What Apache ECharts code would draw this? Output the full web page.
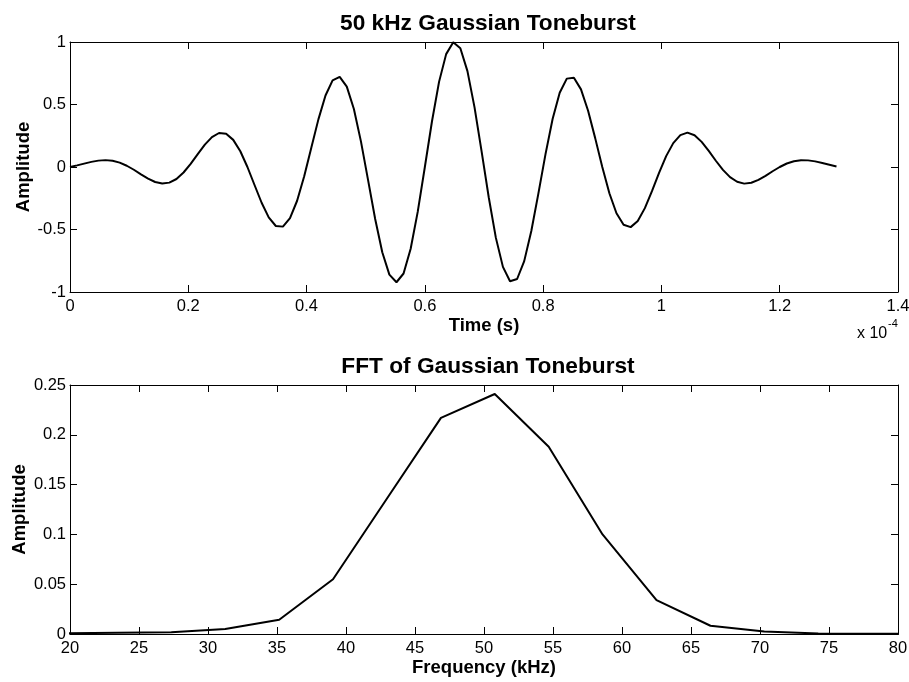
<!DOCTYPE html>
<html>
<head>
<meta charset="utf-8">
<script src="https://cdn.jsdelivr.net/npm/echarts@6/dist/echarts.min.js"></script>
<style>
html,body{margin:0;padding:0;background:#fff;}
#chart{width:909px;height:682px;}
</style>
</head>
<body>
<div id="chart"></div>
<script>
// Time axis values (x 1e-4 s)
const timeValues = [0,0.012,0.024,0.036,0.048,0.06,0.072,0.084,0.096,0.108,0.12,0.132,0.144,0.156,0.168,0.18,0.192,0.204,0.216,0.228,0.24,0.252,0.264,0.276,0.288,0.3,0.312,0.324,0.336,0.348,0.36,0.372,0.384,0.396,0.408,0.42,0.432,0.444,0.456,0.468,0.48,0.492,0.504,0.516,0.528,0.54,0.552,0.564,0.576,0.588,0.6,0.612,0.624,0.636,0.648,0.66,0.672,0.684,0.696,0.708,0.72,0.732,0.744,0.756,0.768,0.78,0.792,0.804,0.816,0.828,0.84,0.852,0.864,0.876,0.888,0.9,0.912,0.924,0.936,0.948,0.96,0.972,0.984,0.996,1.008,1.02,1.032,1.044,1.056,1.068,1.08,1.092,1.104,1.116,1.128,1.14,1.152,1.164,1.176,1.188,1.2,1.212,1.224,1.236,1.248,1.26,1.272,1.284,1.296];
// Toneburst amplitude
const toneAmplitude = [0,0.013,0.027,0.041,0.051,0.055,0.050,0.035,0.010,-0.022,-0.059,-0.093,-0.120,-0.132,-0.125,-0.096,-0.044,0.025,0.103,0.179,0.239,0.272,0.266,0.217,0.126,0,-0.144,-0.286,-0.403,-0.472,-0.477,-0.409,-0.270,-0.074,0.154,0.381,0.572,0.693,0.721,0.643,0.464,0.203,-0.105,-0.416,-0.682,-0.861,-0.922,-0.852,-0.654,-0.357,0,0.364,0.681,0.903,0.998,0.950,0.767,0.477,0.123,-0.242,-0.565,-0.799,-0.914,-0.896,-0.753,-0.512,-0.211,0.103,0.384,0.594,0.707,0.714,0.621,0.450,0.231,0,-0.210,-0.370,-0.462,-0.481,-0.432,-0.329,-0.193,-0.047,0.087,0.191,0.255,0.275,0.254,0.201,0.129,0.050,-0.023,-0.081,-0.118,-0.133,-0.126,-0.103,-0.071,-0.034,0,0.028,0.046,0.054,0.053,0.045,0.032,0.018,0.004];
// FFT
const freqValues = [19.53,23.44,27.34,31.25,35.16,39.06,42.97,46.88,50.78,54.69,58.59,62.50,66.41,70.31,74.22,78.13,82.03];
const fftAmplitude = [0.0006,0.0012,0.0017,0.005,0.0143,0.055,0.136,0.217,0.241,0.188,0.100,0.034,0.0083,0.0025,0.0006,0.0002,0.0001];
// Tick labels
const timeTickLabels = ['0','0.2','0.4','0.6','0.8','1','1.2','1.4'];
const toneTickLabels = ['-1','-0.5','0','0.5','1'];
const freqTickLabels = ['20','25','30','35','40','45','50','55','60','65','70','75','80'];
const fftTickLabels = ['0','0.05','0.1','0.15','0.2','0.25'];

const FONT = 'Liberation Sans, Arial, Helvetica, sans-serif';
const chart = echarts.init(document.getElementById('chart'), null, {renderer:'canvas'});

function mainAxisX(grid, min, max, interval, labels, name){
  return {
    type:'value', gridIndex:grid, position:'bottom', min:min, max:max, interval:interval,
    axisLine:{show:true, onZero:false, lineStyle:{color:'#000', width:1}},
    axisTick:{show:true, inside:true, length:7, lineStyle:{color:'#000'}},
    axisLabel:{show:true, margin:6, color:'#000', fontFamily:FONT, fontSize:16.5,
      showMinLabel:true, showMaxLabel:true,
      formatter:(v,i)=>labels[i]},
    splitLine:{show:false},
    name:name, nameLocation:'middle', nameGap:24, nameMoveOverlap:false,
    nameTextStyle:{color:'#000', fontFamily:FONT, fontSize:18.5, fontWeight:'bold'}
  };
}
function boxAxisX(grid, min, max, interval){
  return {
    type:'value', gridIndex:grid, position:'top', min:min, max:max, interval:interval,
    axisLine:{show:true, onZero:false, lineStyle:{color:'#000', width:1}},
    axisTick:{show:true, inside:true, length:7, lineStyle:{color:'#000'}},
    axisLabel:{show:false}, splitLine:{show:false}
  };
}
function mainAxisY(grid, min, max, interval, labels, gap){
  return {
    type:'value', gridIndex:grid, position:'left', min:min, max:max, interval:interval,
    axisLine:{show:true, onZero:false, lineStyle:{color:'#000', width:1}},
    axisTick:{show:true, inside:true, length:7, lineStyle:{color:'#000'}},
    axisLabel:{show:true, margin:4, color:'#000', fontFamily:FONT, fontSize:16.5,
      showMinLabel:true, showMaxLabel:true,
      formatter:(v,i)=>labels[i]},
    splitLine:{show:false},
    name:'Amplitude', nameLocation:'middle', nameGap:gap, nameMoveOverlap:false,
    nameTextStyle:{color:'#000', fontFamily:FONT, fontSize:18.5, fontWeight:'bold'}
  };
}
function boxAxisY(grid, min, max, interval){
  return {
    type:'value', gridIndex:grid, position:'right', min:min, max:max, interval:interval,
    axisLine:{show:true, onZero:false, lineStyle:{color:'#000', width:1}},
    axisTick:{show:true, inside:true, length:7, lineStyle:{color:'#000'}},
    axisLabel:{show:false}, splitLine:{show:false}
  };
}

const toneData = timeValues.map((t,i)=>[t, toneAmplitude[i]]);
const fftData = freqValues.map((f,i)=>[f, fftAmplitude[i]]);

chart.setOption({
  animation:false,
  backgroundColor:'#fff',
  title:[
    {text:'50 kHz Gaussian Toneburst', left:483, textAlign:'center', top:7,
     textStyle:{color:'#000', fontFamily:FONT, fontSize:22.7, fontWeight:'bold'}},
    {text:'FFT of Gaussian Toneburst', left:483, textAlign:'center', top:350,
     textStyle:{color:'#000', fontFamily:FONT, fontSize:22.7, fontWeight:'bold'}}
  ],
  grid:[
    {left:70, right:11, top:42, height:250, containLabel:false, outerBoundsMode:'none'},
    {left:70, right:11, top:385, height:249, containLabel:false, outerBoundsMode:'none'}
  ],
  xAxis:[
    mainAxisX(0, 0, 1.4, 0.2, timeTickLabels, 'Time (s)'),
    boxAxisX(0, 0, 1.4, 0.2),
    mainAxisX(1, 20, 80, 5, freqTickLabels, 'Frequency (kHz)'),
    boxAxisX(1, 20, 80, 5)
  ],
  yAxis:[
    mainAxisY(0, -1, 1, 0.5, toneTickLabels, 37),
    boxAxisY(0, -1, 1, 0.5),
    mainAxisY(1, 0, 0.25, 0.05, fftTickLabels, 41),
    boxAxisY(1, 0, 0.25, 0.05)
  ],
  graphic:[
    {type:'text', left:857, top:326, style:{text:'x 10', fill:'#000', font:'16px ' + FONT}},
    {type:'text', left:888, top:318, style:{text:'-4', fill:'#000', font:'11px ' + FONT}}
  ],
  series:[
    {type:'line', xAxisIndex:0, yAxisIndex:0, data:toneData, showSymbol:false, smooth:false,
     lineStyle:{color:'#000', width:2}},
    {type:'line', xAxisIndex:2, yAxisIndex:2, data:fftData, showSymbol:false, smooth:false, clip:true,
     lineStyle:{color:'#000', width:2}}
  ]
});
</script>
</body>
</html>
